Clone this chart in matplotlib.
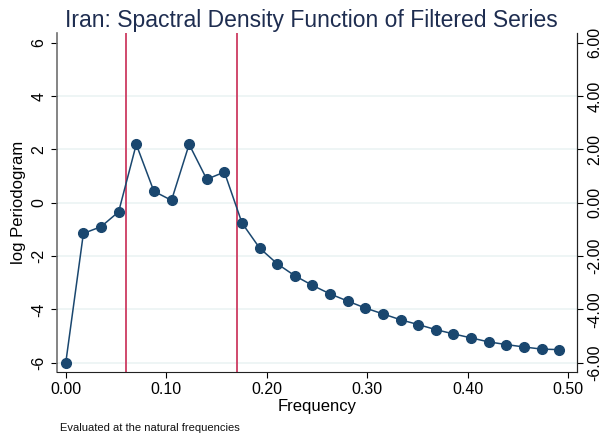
import matplotlib.pyplot as plt
import numpy as np

plt.rcParams['font.family'] = ['Liberation Sans', 'DejaVu Sans']

# natural frequencies k/57 and the log periodogram at each
n_obs = 57
freq_index = np.arange(29)
log_pgram = [-6.00, -1.15, -0.90, -0.34, 2.19, 0.43, 0.09, 2.19, 0.88, 1.15,
             -0.76, -1.70, -2.29, -2.74, -3.10, -3.42, -3.69, -3.95, -4.17,
             -4.39, -4.57, -4.76, -4.92, -5.07, -5.22, -5.32, -5.41, -5.49, -5.51]
band = [0.06, 0.17]
yticks = [-6, -4, -2, 0, 2, 4, 6]
xticks = [0.0, 0.1, 0.2, 0.3, 0.4, 0.5]

freq = freq_index / n_obs
navy = '#1a476f'

fig = plt.figure(figsize=(6.1, 4.41), dpi=100)
ax = fig.add_axes([0.093, 0.157, 0.853, 0.769])

for y in yticks[:-1]:
    ax.axhline(y, color='#eaf2f3', lw=1.1, zorder=0)

for b in band:
    ax.axvline(b, color='#d04a6c', lw=1.4, zorder=1)

ax.plot(freq, log_pgram, '-o', color=navy, lw=1.1, ms=7, zorder=3)

ax.set_xlim(-0.009, 0.509)
ax.set_ylim(-6.34, 6.38)
ax.set_xticks(xticks)
ax.set_xticklabels(['%.2f' % t for t in xticks])
ax.set_yticks(yticks)
ax.set_yticklabels([str(t) for t in yticks], rotation=90, va='center')
ax.tick_params(axis='both', direction='out', length=4, width=0.8, labelsize=11.5)

ax.spines['top'].set_visible(False)
ax.spines['left'].set_color('#707070')
ax.spines['left'].set_linewidth(1.2)
ax.spines['right'].set_color('#222222')
ax.spines['bottom'].set_color('#222222')

# secondary axis repeating the scale on the right
ax2 = ax.twinx()
ax2.set_ylim(ax.get_ylim())
ax2.set_yticks(yticks)
ax2.set_yticklabels(['%.2f' % t for t in yticks], rotation=90, va='center')
ax2.tick_params(axis='y', direction='out', length=4, width=0.8, labelsize=11.5)
for s in ['top', 'left', 'bottom']:
    ax2.spines[s].set_visible(False)
ax2.spines['right'].set_color('#222222')

ax.set_xlabel('Frequency', fontsize=12, labelpad=1)
ax.set_ylabel('log Periodogram', fontsize=12, labelpad=4)
fig.text(0.51, 0.953, 'Iran: Spactral Density Function of Filtered Series',
         ha='center', va='center', fontsize=16.5, color='#1e2d50')
fig.text(0.098, 0.029, 'Evaluated at the natural frequencies',
         ha='left', va='center', fontsize=8, color='#111111')

fig.savefig('out.png', dpi=100)
